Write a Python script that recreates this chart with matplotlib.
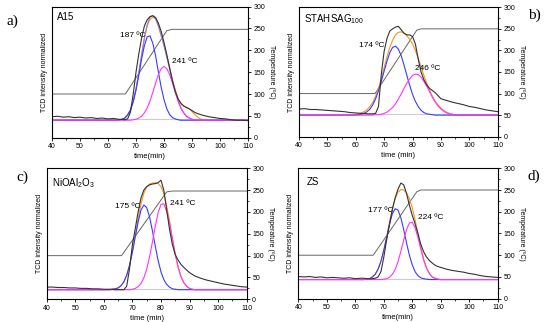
import matplotlib
matplotlib.use("Agg")
import matplotlib.pyplot as plt
from matplotlib.ticker import MultipleLocator

plt.rcParams['font.family'] = ['Liberation Sans', 'DejaVu Sans']
plt.rcParams['mathtext.default'] = 'regular'

# --- data (y in right-axis units) ---
t_fit = [40, 50] + list(range(58, 97)) + [100, 110]
t_data = list(range(40, 63, 2)) + list(range(63, 93)) + list(range(94, 111, 2))

# a) A15
blue_a = [40, 40, 40, 40, 40, 40, 40, 40, 41, 42, 45, 52, 63, 82, 109, 143, 180, 211, 231, 233, 216,
          187, 150, 115, 87, 66, 53, 46, 43, 41] + [40] * 11 + [40, 40]
magenta_a = [40, 40] + [40] * 11 + [41, 42, 45, 49, 57, 68, 84, 104, 125, 145, 158, 163, 158, 145, 125,
                                    104, 84, 68, 57, 49, 45, 42, 41] + [40] * 5 + [40, 40]
purple_a = [40, 40] + [40] * 6 + [41, 42, 45, 52, 63, 83, 111, 148, 189, 228, 259, 277, 280, 272, 255,
                                  233, 210, 184, 158, 131, 107, 85, 68, 57, 49, 45, 42, 41] + [40] * 5 + [40, 40]
orange_a = [40, 40] + [40] * 6 + [41, 42, 45, 52, 63, 84, 112, 149, 190, 228, 256, 271, 276, 272, 257,
                                  235, 212, 186, 160, 133, 110, 90, 77, 72, 70, 66, 60, 53,
                                  47, 43, 41, 40, 40] + [40, 40]
black_a = [48, 49, 47, 48, 46, 47, 45, 46, 44, 45, 43, 44,
           43, 42, 42, 41, 43, 58, 100, 150, 192, 228, 256, 270, 277, 279, 275, 262, 243, 218, 190, 160,
           130, 106, 89, 79, 73, 69, 66, 62, 58, 55,
           51, 48, 46, 44, 43, 41, 40, 40, 39]
t_temp_a = [40, 66.2, 81, 83, 110]
temp_a = [100, 100, 245, 248, 248]

# b) STAHSAG100
blue_b = [50, 50, 50, 50, 50, 51, 52, 54, 58, 64, 74, 88, 106, 128, 152, 175, 195, 207, 210, 203, 188,
          166, 142, 119, 98, 82, 70, 61, 56, 53, 52, 51] + [50] * 9 + [50, 50]
magenta_b = [50, 50] + [50] * 8 + [50, 51, 51, 52, 54, 57, 62, 68, 76, 87, 99, 112, 124, 134, 142, 145,
                                   144, 138, 128, 117, 104, 91, 80, 71, 64, 59, 55, 53, 52, 51, 50] + [50, 50]
orange_b = [50, 50, 50, 51, 52, 53, 55, 58, 63, 70, 80, 94, 112, 135, 160, 185, 207, 224, 236, 242, 243,
            240, 234, 226, 215, 200, 182, 162, 142, 124, 108, 94, 82, 73, 66, 61, 57, 54, 52, 51, 50,
            50, 50]
black_b = [64, 65, 63, 63, 62, 61, 60, 59, 58, 56, 55, 54,
           54, 53, 53, 53, 54, 70, 145, 198, 228, 245, 250, 254, 256, 248, 240, 236, 236, 232, 215, 180,
           150, 132, 120, 112, 107, 102, 95, 88, 86, 84,
           80, 77, 74, 70, 68, 65, 62, 60, 58]
t_temp_b = [40, 66.8, 81.5, 83, 110]
temp_b = [100, 100, 247, 250, 250]

# c) NiOAl2O3
blue_c = [22, 22] + [22] * 5 + [23, 24, 26, 31, 40, 55, 78, 108, 143, 177, 204, 216, 210, 189, 157, 122,
                                89, 63, 45, 34, 28, 24, 23] + [22] * 11 + [22, 22]
magenta_c = [22, 22] + [22] * 11 + [22, 23, 25, 29, 36, 49, 69, 97, 131, 167, 198, 217, 219, 201, 174,
                                    138, 103, 74, 52, 38, 30, 25, 23] + [22] * 5 + [22, 22]
orange_c = [22, 22] + [22] * 5 + [23, 24, 26, 31, 40, 55, 78, 109, 146, 184, 218, 243, 257, 264, 266,
                                  267, 265, 258, 242, 213, 180, 140, 104, 74, 52, 38, 30, 25,
                                  23] + [22] * 5 + [22, 22]
black_c = [28, 28, 27, 27, 26, 26, 25, 25, 24, 24, 23, 23,
           23, 22, 22, 22, 22, 30, 70, 125, 162, 200, 232, 250, 258, 262, 264, 265, 267, 273, 250, 205,
           160, 125, 102, 90, 80, 73, 67, 61, 57, 53,
           48, 44, 41, 38, 35, 33, 31, 29, 28]
t_temp_c = [40, 66.2, 82, 84, 110]
temp_c = [100, 100, 246, 248, 248]

# d) ZS
blue_d = [44, 44] + [44] * 5 + [44, 45, 46, 50, 56, 68, 86, 111, 140, 171, 195, 207, 204, 186, 159, 128,
                                100, 78, 62, 53, 48, 46, 45] + [44] * 11 + [44, 44]
magenta_d = [44, 44] + [44] * 12 + [45, 46, 49, 56, 67, 85, 109, 135, 159, 174, 176, 163, 141, 114, 89,
                                    70, 58, 50, 47, 45] + [44] * 7 + [44, 44]
orange_d = [44, 44] + [44] * 5 + [44, 45, 46, 50, 56, 68, 86, 112, 142, 176, 207, 230, 245, 251, 250,
                                  243, 230, 210, 181, 150, 118, 91, 71, 58, 50, 47, 45] + [44] * 7 + [44, 44]
black_d = [51, 50, 51, 49, 50, 48, 49, 48, 47, 48, 46, 47,
           47, 46, 46, 46, 47, 50, 62, 95, 135, 170, 205, 232, 252, 266, 262, 242, 215, 192, 172, 150,
           125, 108, 96, 88, 82, 77, 74, 72, 70, 68,
           65, 63, 61, 58, 56, 53, 51, 50, 49]
t_temp_d = [40, 66.3, 81.6, 83, 110]
temp_d = [100, 100, 246, 250, 250]

baselines = [42, 52, 23, 45]
samples = ['A15', 'STAHSAG$_{100}$', 'NiOAl$_2$O$_3$', 'ZS']
xlabels = ['time(min)', 'time (min)', 'time (min)', 'time(min)']
letters = ['a)', 'b)', 'c)', 'd)']
peak_labels = [['187 ºC', '241 ºC'], ['174 ºC', '246 ºC'], ['175 ºC', '241 ºC'], ['177 ºC', '224 ºC']]

# --- layout ---
axes_pos = [[0.0945, 0.5724, 0.3565, 0.407],
            [0.5436, 0.5755, 0.3613, 0.4019],
            [0.0849, 0.0705, 0.3636, 0.4068],
            [0.5424, 0.0724, 0.3625, 0.405]]
label_pos = [[(64.2, 233), (82.7, 174)], [(61.3, 211), (80.9, 159)],
             [(63.9, 212), (83.2, 220)], [(64.6, 202), (82.1, 186)]]
sample_pos = [(41.8, 277), (41.8, 272), (41.8, 265), (42.9, 268)]
letter_pos = [(0.022, 0.933), (0.971, 0.953), (0.04, 0.448), (0.971, 0.453)]

fits = [(blue_a, magenta_a, orange_a, black_a, temp_a, t_temp_a),
        (blue_b, magenta_b, orange_b, black_b, temp_b, t_temp_b),
        (blue_c, magenta_c, orange_c, black_c, temp_c, t_temp_c),
        (blue_d, magenta_d, orange_d, black_d, temp_d, t_temp_d)]

fig = plt.figure(figsize=(5.5, 3.22), dpi=100)

for i, (blue, magenta, orange, black, temp, t_temp) in enumerate(fits):
    ax = fig.add_axes(axes_pos[i])
    ax.axhline(baselines[i], color='#cccccc', lw=0.8, zorder=1)
    ax.plot(t_temp, temp, color='#666666', lw=0.7, zorder=2)
    ax.plot(t_fit, orange, color='#f7941d', lw=0.8, zorder=3)
    ax.plot(t_fit, blue, color='#3a3aff', lw=0.8, zorder=4)
    ax.plot(t_fit, magenta, color='#ff33ff', lw=0.8, zorder=4)
    if i == 0:
        ax.plot(t_fit, purple_a, color='#9b7fe0', lw=0.8, zorder=3)
    ax.plot(t_data, black, color='#333333', lw=0.8, zorder=5)

    ax.set_xlim(40, 110)
    ax.set_ylim(0, 300)
    ax.set_yticks([])
    ax.set_ylabel('TCD intensity normalized', fontsize=5, labelpad=3)
    ax.xaxis.set_major_locator(MultipleLocator(10))
    ax.xaxis.set_minor_locator(MultipleLocator(5))
    ax.tick_params(axis='x', which='major', labelsize=5, length=2.5, width=0.6, pad=1.5, direction='out')
    ax.tick_params(axis='x', which='minor', length=1.5, width=0.5, direction='out')
    ax.set_xlabel(xlabels[i], fontsize=5.5, labelpad=2)
    for s in ax.spines.values():
        s.set_linewidth(0.7)
        s.set_color('#333333')

    axr = ax.twinx()
    axr.set_ylim(0, 300)
    axr.yaxis.set_major_locator(MultipleLocator(50))
    axr.yaxis.set_minor_locator(MultipleLocator(25))
    axr.tick_params(axis='y', which='major', labelsize=5, length=2.5, width=0.6, pad=1.5)
    axr.tick_params(axis='y', which='minor', length=1.5, width=0.5)
    axr.set_ylabel('Temperature (ºC)', fontsize=5, rotation=270, labelpad=7)

    ax.text(sample_pos[i][0], sample_pos[i][1], samples[i], fontsize=7, va='center', ha='left')
    for (x, y), txt in zip(label_pos[i], peak_labels[i]):
        ax.text(x, y, txt, fontsize=6, va='center', ha='left')

    fig.text(letter_pos[i][0], letter_pos[i][1], letters[i], fontsize=11,
             family=['Liberation Serif', 'DejaVu Serif'], ha='center', va='center')

fig.savefig('out.png', dpi=100)
